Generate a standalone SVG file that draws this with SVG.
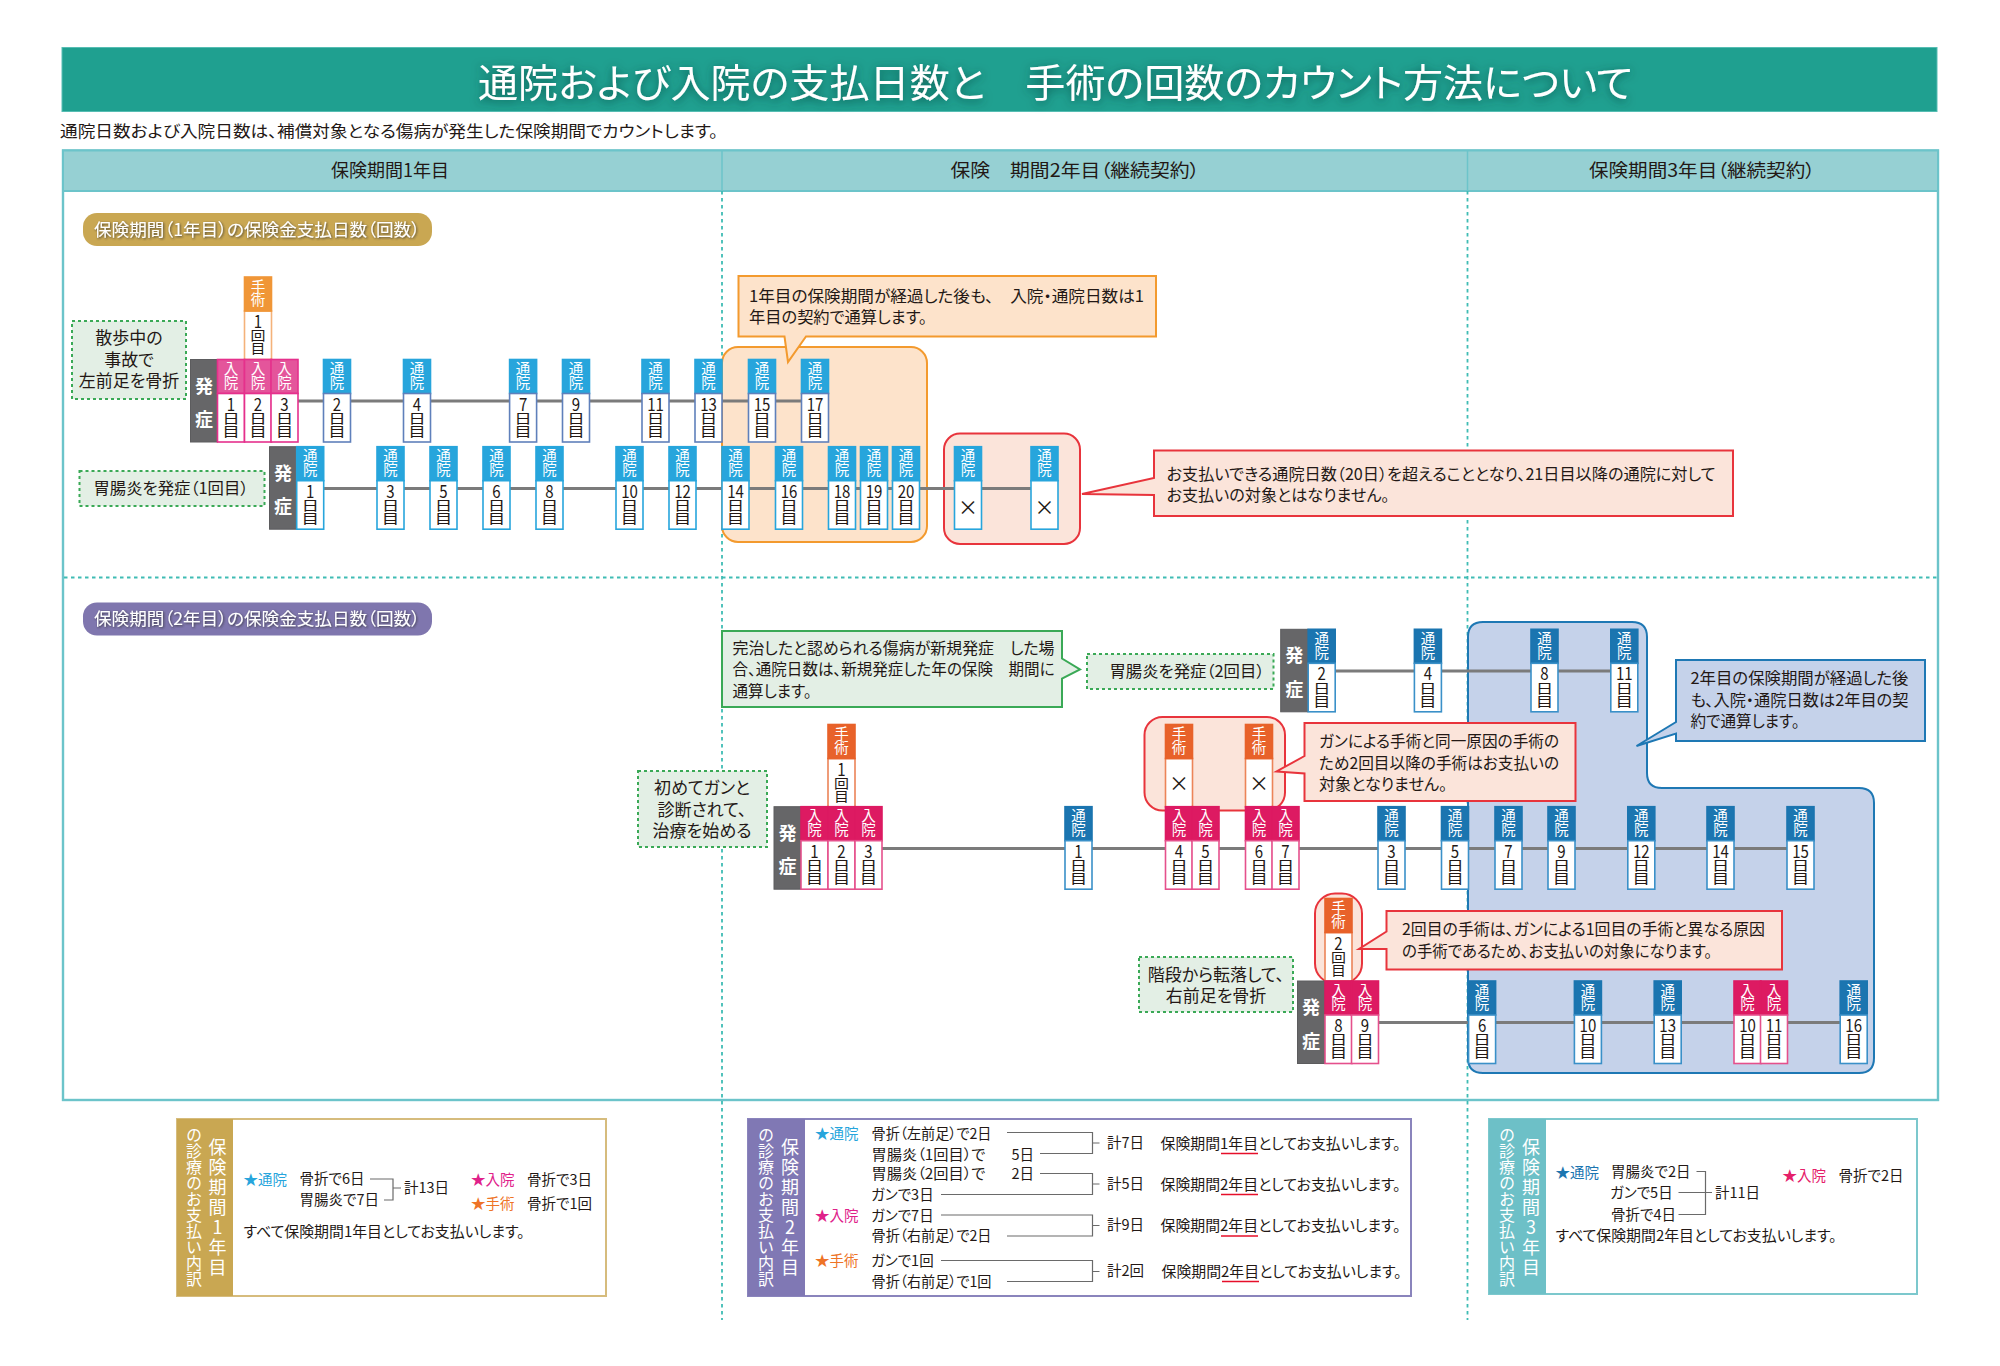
<svg xmlns="http://www.w3.org/2000/svg" width="2000" height="1366" viewBox="0 0 2000 1366">
<defs>
<filter id="sh" x="-5%" y="-40%" width="110%" height="180%"><feDropShadow dx="0" dy="2" stdDeviation="5" flood-color="#0d3f3a" flood-opacity=".75"/></filter>
<filter id="sh2" x="-5%" y="-30%" width="110%" height="160%"><feDropShadow dx="1" dy="1" stdDeviation="1" flood-color="#2f2f2f" flood-opacity=".8"/></filter>
</defs>
<style>
text{font-family:"Noto Sans CJK JP","Noto Sans",sans-serif;dominant-baseline:central;fill:#231815;font-feature-settings:"palt";transform:translateY(-1.3px)}
.m{text-anchor:middle}
.c16{font-size:16px}
.c17{font-size:17px}
.th{font-size:18px;text-anchor:middle}
.dash{fill:#e3efe5;stroke:#3aa956;stroke-width:2;stroke-dasharray:3 3}
.tl{fill:none;stroke:#3fbcb4;stroke-width:1.8;stroke-dasharray:3.5 3.5}
.conn{stroke:#7b7b7b;stroke-width:3}
.br{fill:none;stroke:#6a6a6a;stroke-width:1.2}
.ul{stroke:#e60f2a;stroke-width:1.5}
.nd text{text-anchor:middle}
.hv{writing-mode:vertical-rl;text-orientation:upright;fill:#fff;font-size:14.5px;letter-spacing:-1px;font-feature-settings:normal;text-anchor:start!important;transform:none}
.bv{writing-mode:vertical-rl;text-orientation:upright;font-size:13px;font-feature-settings:normal;text-anchor:start!important;transform-box:fill-box;transform-origin:center;transform:scaleX(1.35)}
.bv.r{transform:scaleX(1.15)}
.n{font-size:17.5px;font-feature-settings:normal;transform-box:fill-box;transform-origin:center;transform:translateY(-.5px) scaleX(.86)}
.x{font-size:20px;transform:none}
.hd,.bd{stroke-width:1.6}
.bd{fill:#fff}
.lt .hd{fill:#27a5dc;stroke:#27a5dc}.lt .bd{stroke:#27a5dc}
.lb .hd{fill:#27a5dc;stroke:#27a5dc}.lb .bd{stroke:#5f80bb}
.dk .hd{fill:#1b75b0;stroke:#1b75b0}.dk .bd{stroke:#3a90c8}
.pk .hd{fill:#e4559b;stroke:#e5308c}.pk .bd{stroke:#e5308c}
.cr .hd{fill:#dd1a62;stroke:#dd1a62}.cr .bd{stroke:#e5508c}
.so .hd{fill:#f09637;stroke:#f09637}.so .bd{stroke:#f4b27a}
.sr .hd{fill:#e8622a;stroke:#e8622a}.sr .bd{stroke:#ec8458}
.on rect{fill:#666668;stroke:#5c5c5e}
.on text{font-size:18px;font-weight:700;fill:#fff;text-anchor:middle;transform:none}
.on text:last-child{transform:translateY(-1.5px)}
.red{fill:#fbe4da;stroke:#e8343c;stroke-width:2}
.org{fill:#fde3cb;stroke:#f39a2e;stroke-width:2}
.vt{writing-mode:vertical-rl;text-orientation:upright;fill:#fff;font-feature-settings:normal;transform:none}
.s{font-size:14.5px;transform:translateY(-1.8px)}
</style>

<g id="title">
<rect x="62" y="47.5" width="1875" height="64" fill="#1fa090" stroke="#56bdb3"/>
<text x="1055.5" y="81.5" class="m" font-size="39" style="fill:#fff" filter="url(#sh)" textLength="1155" lengthAdjust="spacingAndGlyphs">通院および入院の支払日数と　手術の回数のカウント方法について</text>
</g>
<text id="subtitle" x="60" y="131" font-size="16" textLength="658" lengthAdjust="spacingAndGlyphs">通院日数および入院日数は、補償対象となる傷病が発生した保険期間でカウントします。</text>

<g id="table">
<rect x="63" y="150.5" width="1875" height="949.5" fill="#fff" stroke="#6cc4ca" stroke-width="2.4"/>
<rect x="63" y="150.5" width="1875" height="40.5" fill="#96d0d3" stroke="#6cc4ca" stroke-width="2"/>
<path d="M722 151V191M1467.5 151V191" stroke="#6cc4ca" stroke-width="1.5"/>
<text x="390" y="170" class="th">保険期間1年目</text>
<text x="1075" y="170" class="th" textLength="249" lengthAdjust="spacingAndGlyphs">保険　期間2年目（継続契約）</text>
<text x="1702" y="170" class="th" textLength="226" lengthAdjust="spacingAndGlyphs">保険期間3年目（継続契約）</text>
<path class="tl" d="M722 191V1320M1467.5 191V1320M64 577.5H1937"/>
</g>

<g id="pill1"><rect x="83" y="213" width="349" height="33" rx="14" fill="#c9a752"/><text x="94" y="229.5" font-size="17.5" style="fill:#fff" filter="url(#sh2)" textLength="326" lengthAdjust="spacingAndGlyphs">保険期間（1年目）の保険金支払日数（回数）</text></g>
<g id="pill2"><rect x="83" y="602.5" width="349" height="33" rx="14" fill="#7f76ae"/><text x="94" y="619" font-size="17.5" style="fill:#fff" filter="url(#sh2)" textLength="326" lengthAdjust="spacingAndGlyphs">保険期間（2年目）の保険金支払日数（回数）</text></g>

<g id="regions">
<rect id="region-orange" class="org" x="722" y="347" width="205" height="195" rx="16"/>
<rect id="region-red1" class="red" x="944" y="433.5" width="136" height="110.5" rx="16"/>
<path id="region-blue" d="M1468 637Q1468 622 1483 622H1632Q1647 622 1647 637V773Q1647 788 1662 788H1859Q1874 788 1874 803V1058Q1874 1073 1859 1073H1483Q1468 1073 1468 1058Z" fill="#c5d2ea" stroke="#1e78b4" stroke-width="2"/>
<rect id="region-red2" class="red" x="1144.5" y="717" width="140.5" height="93.5" rx="18"/>
<rect id="region-red3" class="red" x="1315" y="893.5" width="47" height="90" rx="20"/>
</g>

<g id="connectors">
<line class="conn" x1="297" y1="401" x2="815" y2="401"/>
<line class="conn" x1="323" y1="488.5" x2="1045" y2="488.5"/>
<line class="conn" x1="1335" y1="671" x2="1625" y2="671"/>
<line class="conn" x1="881" y1="848.5" x2="1800" y2="848.5"/>
<line class="conn" x1="1378" y1="1022.5" x2="1855" y2="1022.5"/>
</g>

<g id="labels">
<g id="lb-walk"><rect class="dash" x="72" y="321" width="114" height="78"/><text class="c17 m" x="129"><tspan x="129" y="337.5">散歩中の</tspan><tspan x="129" y="359">事故で</tspan><tspan x="129" y="380.5">左前足を骨折</tspan></text></g>
<g id="lb-gastro1"><rect class="dash" x="79.5" y="471" width="185" height="35"/><text class="c16 m" x="171" y="488" textLength="155" lengthAdjust="spacingAndGlyphs">胃腸炎を発症（1回目）</text></g>
<g id="lb-gastro2"><rect class="dash" x="1087" y="654" width="186.5" height="35"/><text class="c16 m" x="1187" y="671" textLength="155" lengthAdjust="spacingAndGlyphs">胃腸炎を発症（2回目）</text></g>
<g id="lb-cancer"><rect class="dash" x="638" y="771" width="129" height="76"/><text class="c17 m"><tspan x="702" y="787.5">初めてガンと</tspan><tspan x="702" y="809">診断されて、</tspan><tspan x="702" y="830.5">治療を始める</tspan></text></g>
<g id="lb-stairs"><rect class="dash" x="1139" y="957" width="154" height="55"/><text class="c17 m"><tspan x="1216" y="974">階段から転落して、</tspan><tspan x="1216" y="995">右前足を骨折</tspan></text></g>
</g>

<g id="surgery">
<g id="s1" class="nd so" transform="translate(244.5,277)"><rect class="bd" y="34" width="27" height="48.5"/><rect class="hd" width="27" height="34"/><text class="hv" x="13.5" y="2">手術</text><text class="n" x="13.5" y="44">1</text><text class="bv r" x="13.5" y="52">回目</text></g>
<g id="s2" class="nd sr" transform="translate(828,724.5)"><rect class="bd" y="34" width="27" height="48.5"/><rect class="hd" width="27" height="34"/><text class="hv" x="13.5" y="2">手術</text><text class="n" x="13.5" y="44">1</text><text class="bv r" x="13.5" y="52">回目</text></g>
<g id="s3" class="nd sr" transform="translate(1165.5,724.5)"><rect class="bd" y="34" width="27" height="48.5"/><rect class="hd" width="27" height="34"/><text class="hv" x="13.5" y="2">手術</text><text class="x" x="13.5" y="58">×</text></g>
<g id="s4" class="nd sr" transform="translate(1245.5,724.5)"><rect class="bd" y="34" width="27" height="48.5"/><rect class="hd" width="27" height="34"/><text class="hv" x="13.5" y="2">手術</text><text class="x" x="13.5" y="58">×</text></g>
<g id="s5" class="nd sr" transform="translate(1325,898.5)"><rect class="bd" y="34" width="27" height="48.5"/><rect class="hd" width="27" height="34"/><text class="hv" x="13.5" y="2">手術</text><text class="n" x="13.5" y="44">2</text><text class="bv r" x="13.5" y="52">回目</text></g>
</g>

<g id="row1">
<g id="r1-on" class="on" transform="translate(190.5,359.5)"><rect width="27" height="82.5"/><text x="13.5" y="25">発</text><text x="13.5" y="60">症</text></g>
<g id="r1-i1" class="nd pk" transform="translate(217.5,359.5)"><rect class="hd" width="27" height="34"/><rect class="bd" y="34" width="27" height="48.5"/><text class="hv" x="13.5" y="2">入院</text><text class="n" x="13.5" y="44">1</text><text class="bv" x="13.5" y="52">日目</text></g>
<g id="r1-i2" class="nd pk" transform="translate(244.5,359.5)"><rect class="hd" width="27" height="34"/><rect class="bd" y="34" width="27" height="48.5"/><text class="hv" x="13.5" y="2">入院</text><text class="n" x="13.5" y="44">2</text><text class="bv" x="13.5" y="52">日目</text></g>
<g id="r1-i3" class="nd pk" transform="translate(271,359.5)"><rect class="hd" width="27" height="34"/><rect class="bd" y="34" width="27" height="48.5"/><text class="hv" x="13.5" y="2">入院</text><text class="n" x="13.5" y="44">3</text><text class="bv" x="13.5" y="52">日目</text></g>
<g id="r1-t2" class="nd lb" transform="translate(323.5,359.5)"><rect class="hd" width="27" height="34"/><rect class="bd" y="34" width="27" height="48.5"/><text class="hv" x="13.5" y="2">通院</text><text class="n" x="13.5" y="44">2</text><text class="bv" x="13.5" y="52">日目</text></g>
<g id="r1-t4" class="nd lb" transform="translate(403.5,359.5)"><rect class="hd" width="27" height="34"/><rect class="bd" y="34" width="27" height="48.5"/><text class="hv" x="13.5" y="2">通院</text><text class="n" x="13.5" y="44">4</text><text class="bv" x="13.5" y="52">日目</text></g>
<g id="r1-t7" class="nd lb" transform="translate(509.6,359.5)"><rect class="hd" width="27" height="34"/><rect class="bd" y="34" width="27" height="48.5"/><text class="hv" x="13.5" y="2">通院</text><text class="n" x="13.5" y="44">7</text><text class="bv" x="13.5" y="52">日目</text></g>
<g id="r1-t9" class="nd lb" transform="translate(562.5,359.5)"><rect class="hd" width="27" height="34"/><rect class="bd" y="34" width="27" height="48.5"/><text class="hv" x="13.5" y="2">通院</text><text class="n" x="13.5" y="44">9</text><text class="bv" x="13.5" y="52">日目</text></g>
<g id="r1-t11" class="nd lb" transform="translate(642,359.5)"><rect class="hd" width="27" height="34"/><rect class="bd" y="34" width="27" height="48.5"/><text class="hv" x="13.5" y="2">通院</text><text class="n" x="13.5" y="44">11</text><text class="bv" x="13.5" y="52">日目</text></g>
<g id="r1-t13" class="nd lb" transform="translate(695,359.5)"><rect class="hd" width="27" height="34"/><rect class="bd" y="34" width="27" height="48.5"/><text class="hv" x="13.5" y="2">通院</text><text class="n" x="13.5" y="44">13</text><text class="bv" x="13.5" y="52">日目</text></g>
<g id="r1-t15" class="nd lb" transform="translate(748.5,359.5)"><rect class="hd" width="27" height="34"/><rect class="bd" y="34" width="27" height="48.5"/><text class="hv" x="13.5" y="2">通院</text><text class="n" x="13.5" y="44">15</text><text class="bv" x="13.5" y="52">日目</text></g>
<g id="r1-t17" class="nd lb" transform="translate(801.5,359.5)"><rect class="hd" width="27" height="34"/><rect class="bd" y="34" width="27" height="48.5"/><text class="hv" x="13.5" y="2">通院</text><text class="n" x="13.5" y="44">17</text><text class="bv" x="13.5" y="52">日目</text></g>
</g>

<g id="row2">
<g id="r2-on" class="on" transform="translate(269.5,446.7)"><rect width="27" height="82.5"/><text x="13.5" y="25">発</text><text x="13.5" y="60">症</text></g>
<g id="r2-t1" class="nd lt" transform="translate(296.7,446.7)"><rect class="hd" width="27" height="34"/><rect class="bd" y="34" width="27" height="48.5"/><text class="hv" x="13.5" y="2">通院</text><text class="n" x="13.5" y="44">1</text><text class="bv" x="13.5" y="52">日目</text></g>
<g id="r2-t3" class="nd lt" transform="translate(377,446.7)"><rect class="hd" width="27" height="34"/><rect class="bd" y="34" width="27" height="48.5"/><text class="hv" x="13.5" y="2">通院</text><text class="n" x="13.5" y="44">3</text><text class="bv" x="13.5" y="52">日目</text></g>
<g id="r2-t5" class="nd lt" transform="translate(430,446.7)"><rect class="hd" width="27" height="34"/><rect class="bd" y="34" width="27" height="48.5"/><text class="hv" x="13.5" y="2">通院</text><text class="n" x="13.5" y="44">5</text><text class="bv" x="13.5" y="52">日目</text></g>
<g id="r2-t6" class="nd lt" transform="translate(483,446.7)"><rect class="hd" width="27" height="34"/><rect class="bd" y="34" width="27" height="48.5"/><text class="hv" x="13.5" y="2">通院</text><text class="n" x="13.5" y="44">6</text><text class="bv" x="13.5" y="52">日目</text></g>
<g id="r2-t8" class="nd lt" transform="translate(536,446.7)"><rect class="hd" width="27" height="34"/><rect class="bd" y="34" width="27" height="48.5"/><text class="hv" x="13.5" y="2">通院</text><text class="n" x="13.5" y="44">8</text><text class="bv" x="13.5" y="52">日目</text></g>
<g id="r2-t10" class="nd lt" transform="translate(616,446.7)"><rect class="hd" width="27" height="34"/><rect class="bd" y="34" width="27" height="48.5"/><text class="hv" x="13.5" y="2">通院</text><text class="n" x="13.5" y="44">10</text><text class="bv" x="13.5" y="52">日目</text></g>
<g id="r2-t12" class="nd lt" transform="translate(669,446.7)"><rect class="hd" width="27" height="34"/><rect class="bd" y="34" width="27" height="48.5"/><text class="hv" x="13.5" y="2">通院</text><text class="n" x="13.5" y="44">12</text><text class="bv" x="13.5" y="52">日目</text></g>
<g id="r2-t14" class="nd lt" transform="translate(722,446.7)"><rect class="hd" width="27" height="34"/><rect class="bd" y="34" width="27" height="48.5"/><text class="hv" x="13.5" y="2">通院</text><text class="n" x="13.5" y="44">14</text><text class="bv" x="13.5" y="52">日目</text></g>
<g id="r2-t16" class="nd lt" transform="translate(775.5,446.7)"><rect class="hd" width="27" height="34"/><rect class="bd" y="34" width="27" height="48.5"/><text class="hv" x="13.5" y="2">通院</text><text class="n" x="13.5" y="44">16</text><text class="bv" x="13.5" y="52">日目</text></g>
<g id="r2-t18" class="nd lt" transform="translate(828.5,446.7)"><rect class="hd" width="27" height="34"/><rect class="bd" y="34" width="27" height="48.5"/><text class="hv" x="13.5" y="2">通院</text><text class="n" x="13.5" y="44">18</text><text class="bv" x="13.5" y="52">日目</text></g>
<g id="r2-t19" class="nd lt" transform="translate(860.5,446.7)"><rect class="hd" width="27" height="34"/><rect class="bd" y="34" width="27" height="48.5"/><text class="hv" x="13.5" y="2">通院</text><text class="n" x="13.5" y="44">19</text><text class="bv" x="13.5" y="52">日目</text></g>
<g id="r2-t20" class="nd lt" transform="translate(892.5,446.7)"><rect class="hd" width="27" height="34"/><rect class="bd" y="34" width="27" height="48.5"/><text class="hv" x="13.5" y="2">通院</text><text class="n" x="13.5" y="44">20</text><text class="bv" x="13.5" y="52">日目</text></g>
<g id="r2-x1" class="nd lt" transform="translate(954.5,446.7)"><rect class="hd" width="27" height="34"/><rect class="bd" y="34" width="27" height="48.5"/><text class="hv" x="13.5" y="2">通院</text><text class="x" x="13.5" y="59.5">×</text></g>
<g id="r2-x2" class="nd lt" transform="translate(1031,446.7)"><rect class="hd" width="27" height="34"/><rect class="bd" y="34" width="27" height="48.5"/><text class="hv" x="13.5" y="2">通院</text><text class="x" x="13.5" y="59.5">×</text></g>
</g>

<g id="rowA">
<g id="ra-on" class="on" transform="translate(1280.7,629.3)"><rect width="27" height="82.5"/><text x="13.5" y="25">発</text><text x="13.5" y="60">症</text></g>
<g id="ra-t2" class="nd dk" transform="translate(1308.2,629.3)"><rect class="hd" width="27" height="34"/><rect class="bd" y="34" width="27" height="48.5"/><text class="hv" x="13.5" y="2">通院</text><text class="n" x="13.5" y="44">2</text><text class="bv" x="13.5" y="52">日目</text></g>
<g id="ra-t4" class="nd dk" transform="translate(1414.4,629.3)"><rect class="hd" width="27" height="34"/><rect class="bd" y="34" width="27" height="48.5"/><text class="hv" x="13.5" y="2">通院</text><text class="n" x="13.5" y="44">4</text><text class="bv" x="13.5" y="52">日目</text></g>
<g id="ra-t8" class="nd dk" transform="translate(1531,629.3)"><rect class="hd" width="27" height="34"/><rect class="bd" y="34" width="27" height="48.5"/><text class="hv" x="13.5" y="2">通院</text><text class="n" x="13.5" y="44">8</text><text class="bv" x="13.5" y="52">日目</text></g>
<g id="ra-t11" class="nd dk" transform="translate(1610.8,629.3)"><rect class="hd" width="27" height="34"/><rect class="bd" y="34" width="27" height="48.5"/><text class="hv" x="13.5" y="2">通院</text><text class="n" x="13.5" y="44">11</text><text class="bv" x="13.5" y="52">日目</text></g>
</g>

<g id="rowB">
<g id="rb-on" class="on" transform="translate(774,806.7)"><rect width="27" height="82.5"/><text x="13.5" y="25">発</text><text x="13.5" y="60">症</text></g>
<g id="rb-i1" class="nd cr" transform="translate(801,806.7)"><rect class="hd" width="27" height="34"/><rect class="bd" y="34" width="27" height="48.5"/><text class="hv" x="13.5" y="2">入院</text><text class="n" x="13.5" y="44">1</text><text class="bv" x="13.5" y="52">日目</text></g>
<g id="rb-i2" class="nd cr" transform="translate(828,806.7)"><rect class="hd" width="27" height="34"/><rect class="bd" y="34" width="27" height="48.5"/><text class="hv" x="13.5" y="2">入院</text><text class="n" x="13.5" y="44">2</text><text class="bv" x="13.5" y="52">日目</text></g>
<g id="rb-i3" class="nd cr" transform="translate(855,806.7)"><rect class="hd" width="27" height="34"/><rect class="bd" y="34" width="27" height="48.5"/><text class="hv" x="13.5" y="2">入院</text><text class="n" x="13.5" y="44">3</text><text class="bv" x="13.5" y="52">日目</text></g>
<g id="rb-t1" class="nd dk" transform="translate(1065,806.7)"><rect class="hd" width="27" height="34"/><rect class="bd" y="34" width="27" height="48.5"/><text class="hv" x="13.5" y="2">通院</text><text class="n" x="13.5" y="44">1</text><text class="bv" x="13.5" y="52">日目</text></g>
<g id="rb-i4" class="nd cr" transform="translate(1165.5,806.7)"><rect class="hd" width="27" height="34"/><rect class="bd" y="34" width="27" height="48.5"/><text class="hv" x="13.5" y="2">入院</text><text class="n" x="13.5" y="44">4</text><text class="bv" x="13.5" y="52">日目</text></g>
<g id="rb-i5" class="nd cr" transform="translate(1192,806.7)"><rect class="hd" width="27" height="34"/><rect class="bd" y="34" width="27" height="48.5"/><text class="hv" x="13.5" y="2">入院</text><text class="n" x="13.5" y="44">5</text><text class="bv" x="13.5" y="52">日目</text></g>
<g id="rb-i6" class="nd cr" transform="translate(1245.5,806.7)"><rect class="hd" width="27" height="34"/><rect class="bd" y="34" width="27" height="48.5"/><text class="hv" x="13.5" y="2">入院</text><text class="n" x="13.5" y="44">6</text><text class="bv" x="13.5" y="52">日目</text></g>
<g id="rb-i7" class="nd cr" transform="translate(1272,806.7)"><rect class="hd" width="27" height="34"/><rect class="bd" y="34" width="27" height="48.5"/><text class="hv" x="13.5" y="2">入院</text><text class="n" x="13.5" y="44">7</text><text class="bv" x="13.5" y="52">日目</text></g>
<g id="rb-t3" class="nd dk" transform="translate(1378,806.7)"><rect class="hd" width="27" height="34"/><rect class="bd" y="34" width="27" height="48.5"/><text class="hv" x="13.5" y="2">通院</text><text class="n" x="13.5" y="44">3</text><text class="bv" x="13.5" y="52">日目</text></g>
<g id="rb-t5" class="nd dk" transform="translate(1441.5,806.7)"><rect class="hd" width="27" height="34"/><rect class="bd" y="34" width="27" height="48.5"/><text class="hv" x="13.5" y="2">通院</text><text class="n" x="13.5" y="44">5</text><text class="bv" x="13.5" y="52">日目</text></g>
<g id="rb-t7" class="nd dk" transform="translate(1495,806.7)"><rect class="hd" width="27" height="34"/><rect class="bd" y="34" width="27" height="48.5"/><text class="hv" x="13.5" y="2">通院</text><text class="n" x="13.5" y="44">7</text><text class="bv" x="13.5" y="52">日目</text></g>
<g id="rb-t9" class="nd dk" transform="translate(1548,806.7)"><rect class="hd" width="27" height="34"/><rect class="bd" y="34" width="27" height="48.5"/><text class="hv" x="13.5" y="2">通院</text><text class="n" x="13.5" y="44">9</text><text class="bv" x="13.5" y="52">日目</text></g>
<g id="rb-t12" class="nd dk" transform="translate(1627.8,806.7)"><rect class="hd" width="27" height="34"/><rect class="bd" y="34" width="27" height="48.5"/><text class="hv" x="13.5" y="2">通院</text><text class="n" x="13.5" y="44">12</text><text class="bv" x="13.5" y="52">日目</text></g>
<g id="rb-t14" class="nd dk" transform="translate(1707,806.7)"><rect class="hd" width="27" height="34"/><rect class="bd" y="34" width="27" height="48.5"/><text class="hv" x="13.5" y="2">通院</text><text class="n" x="13.5" y="44">14</text><text class="bv" x="13.5" y="52">日目</text></g>
<g id="rb-t15" class="nd dk" transform="translate(1787,806.7)"><rect class="hd" width="27" height="34"/><rect class="bd" y="34" width="27" height="48.5"/><text class="hv" x="13.5" y="2">通院</text><text class="n" x="13.5" y="44">15</text><text class="bv" x="13.5" y="52">日目</text></g>
</g>

<g id="rowC">
<g id="rc-on" class="on" transform="translate(1297.5,981)"><rect width="27" height="82.5"/><text x="13.5" y="25">発</text><text x="13.5" y="60">症</text></g>
<g id="rc-i8" class="nd cr" transform="translate(1325,981)"><rect class="hd" width="27" height="34"/><rect class="bd" y="34" width="27" height="48.5"/><text class="hv" x="13.5" y="2">入院</text><text class="n" x="13.5" y="44">8</text><text class="bv" x="13.5" y="52">日目</text></g>
<g id="rc-i9" class="nd cr" transform="translate(1351.5,981)"><rect class="hd" width="27" height="34"/><rect class="bd" y="34" width="27" height="48.5"/><text class="hv" x="13.5" y="2">入院</text><text class="n" x="13.5" y="44">9</text><text class="bv" x="13.5" y="52">日目</text></g>
<g id="rc-t6" class="nd dk" transform="translate(1468.6,981)"><rect class="hd" width="27" height="34"/><rect class="bd" y="34" width="27" height="48.5"/><text class="hv" x="13.5" y="2">通院</text><text class="n" x="13.5" y="44">6</text><text class="bv" x="13.5" y="52">日目</text></g>
<g id="rc-t10" class="nd dk" transform="translate(1574.4,981)"><rect class="hd" width="27" height="34"/><rect class="bd" y="34" width="27" height="48.5"/><text class="hv" x="13.5" y="2">通院</text><text class="n" x="13.5" y="44">10</text><text class="bv" x="13.5" y="52">日目</text></g>
<g id="rc-t13" class="nd dk" transform="translate(1654.2,981)"><rect class="hd" width="27" height="34"/><rect class="bd" y="34" width="27" height="48.5"/><text class="hv" x="13.5" y="2">通院</text><text class="n" x="13.5" y="44">13</text><text class="bv" x="13.5" y="52">日目</text></g>
<g id="rc-i10" class="nd cr" transform="translate(1734,981)"><rect class="hd" width="27" height="34"/><rect class="bd" y="34" width="27" height="48.5"/><text class="hv" x="13.5" y="2">入院</text><text class="n" x="13.5" y="44">10</text><text class="bv" x="13.5" y="52">日目</text></g>
<g id="rc-i11" class="nd cr" transform="translate(1760.5,981)"><rect class="hd" width="27" height="34"/><rect class="bd" y="34" width="27" height="48.5"/><text class="hv" x="13.5" y="2">入院</text><text class="n" x="13.5" y="44">11</text><text class="bv" x="13.5" y="52">日目</text></g>
<g id="rc-t16" class="nd dk" transform="translate(1840.2,981)"><rect class="hd" width="27" height="34"/><rect class="bd" y="34" width="27" height="48.5"/><text class="hv" x="13.5" y="2">通院</text><text class="n" x="13.5" y="44">16</text><text class="bv" x="13.5" y="52">日目</text></g>
</g>

<g id="callouts">
<g id="co-orange"><path class="org" d="M738.5 276H1156V336.5H806L788 362L784.5 336.5H738.5Z"/><text class="c16"><tspan x="749" y="296" textLength="395" lengthAdjust="spacingAndGlyphs">1年目の保険期間が経過した後も、　入院・通院日数は1</tspan><tspan x="749" y="317" textLength="178" lengthAdjust="spacingAndGlyphs">年目の契約で通算します。</tspan></text></g>
<g id="co-red1"><path class="red" d="M1154 450.5H1733V516H1154V495L1082 494L1154 478Z"/><text class="c16"><tspan x="1166.5" y="474" textLength="549" lengthAdjust="spacingAndGlyphs">お支払いできる通院日数（20日）を超えることとなり、21日目以降の通院に対して</tspan><tspan x="1166.5" y="495" textLength="223" lengthAdjust="spacingAndGlyphs">お支払いの対象とはなりません。</tspan></text></g>
<g id="co-green"><path d="M722 631H1062V658.5L1080 669.5L1062 678.5V707H722Z" fill="#e3efe5" stroke="#3aa956" stroke-width="2"/><text class="c16"><tspan x="732.5" y="648" textLength="322" lengthAdjust="spacingAndGlyphs">完治したと認められる傷病が新規発症　した場</tspan><tspan x="732.5" y="669.5" textLength="322" lengthAdjust="spacingAndGlyphs">合、通院日数は、新規発症した年の保険　期間に</tspan><tspan x="732.5" y="691" textLength="79" lengthAdjust="spacingAndGlyphs">通算します。</tspan></text></g>
<g id="co-red2"><path class="red" d="M1304.5 723H1575.5V801H1304.5V773.5L1276.5 771.5L1304.5 756Z"/><text class="c16"><tspan x="1319" y="741.5" textLength="240" lengthAdjust="spacingAndGlyphs">ガンによる手術と同一原因の手術の</tspan><tspan x="1319" y="763" textLength="240" lengthAdjust="spacingAndGlyphs">ため2回目以降の手術はお支払いの</tspan><tspan x="1319" y="784" textLength="128" lengthAdjust="spacingAndGlyphs">対象となりません。</tspan></text></g>
<g id="co-blue"><path d="M1676 660H1925V741H1676V733.5L1636.5 746L1676 722Z" fill="#c5d2ea" stroke="#1e78b4" stroke-width="2"/><text class="c16"><tspan x="1690.5" y="678.5" textLength="218" lengthAdjust="spacingAndGlyphs">2年目の保険期間が経過した後</tspan><tspan x="1690.5" y="700" textLength="218" lengthAdjust="spacingAndGlyphs">も、入院・通院日数は2年目の契</tspan><tspan x="1690.5" y="721.5" textLength="109" lengthAdjust="spacingAndGlyphs">約で通算します。</tspan></text></g>
<g id="co-red3"><path class="red" d="M1386.5 911H1782V969.5H1386.5V949H1359L1386.5 931.5Z"/><text class="c16"><tspan x="1402" y="929.5" textLength="363" lengthAdjust="spacingAndGlyphs">2回目の手術は、ガンによる1回目の手術と異なる原因</tspan><tspan x="1402" y="951" textLength="310" lengthAdjust="spacingAndGlyphs">の手術であるため、お支払いの対象になります。</tspan></text></g>
</g>

<g id="box1">
<rect x="177" y="1119" width="429" height="177" fill="#fff" stroke="#d6bc7d" stroke-width="2"/>
<rect x="177" y="1119" width="56" height="177" fill="#c9a752"/>
<text class="vt" x="217.5" y="1138" font-size="18" letter-spacing="2">保険期間1年目</text>
<text class="vt" x="194" y="1127" font-size="16">の診療のお支払い内訳</text>
<text class="s" x="243.5" y="1180" style="fill:#27a5dc">★通院</text><text class="s" x="299.5" y="1179">骨折で6日</text><text class="s" x="299.5" y="1200.5">胃腸炎で7日</text>
<path class="br" d="M370 1179H393V1200H384M393 1188H401"/>
<text class="s" x="404" y="1188">計13日</text>
<text class="s" x="471" y="1180" style="fill:#e0218a">★入院</text><text class="s" x="527" y="1180">骨折で3日</text>
<text class="s" x="471" y="1204" style="fill:#ee7326">★手術</text><text class="s" x="527" y="1204">骨折で1回</text>
<text class="s" x="243.5" y="1232" textLength="281" lengthAdjust="spacingAndGlyphs">すべて保険期間1年目としてお支払いします。</text>
</g>

<g id="box2">
<rect x="748" y="1119" width="663" height="177" fill="#fff" stroke="#8a84bc" stroke-width="2"/>
<rect x="748" y="1119" width="57" height="177" fill="#8078b4"/>
<text class="vt" x="790" y="1138" font-size="18" letter-spacing="2">保険期間2年目</text>
<text class="vt" x="766" y="1127" font-size="16">の診療のお支払い内訳</text>
<text class="s" x="815" y="1134" style="fill:#27a5dc">★通院</text>
<text class="s" x="871.5" y="1134" textLength="120" lengthAdjust="spacingAndGlyphs">骨折（左前足）で2日</text>
<text class="s" x="871.5" y="1155" textLength="114" lengthAdjust="spacingAndGlyphs">胃腸炎（1回目）で</text><text class="s" x="1011.5" y="1155">5日</text>
<text class="s" x="871.5" y="1174.5" textLength="114" lengthAdjust="spacingAndGlyphs">胃腸炎（2回目）で</text><text class="s" x="1011.5" y="1174.5">2日</text>
<text class="s" x="871" y="1195">ガンで3日</text>
<text class="s" x="815" y="1216" style="fill:#e0218a">★入院</text>
<text class="s" x="871" y="1216">ガンで7日</text>
<text class="s" x="871.5" y="1236.5" textLength="120" lengthAdjust="spacingAndGlyphs">骨折（右前足）で2日</text>
<text class="s" x="815" y="1261.5" style="fill:#ee7326">★手術</text>
<text class="s" x="871" y="1261.5">ガンで1回</text>
<text class="s" x="871.5" y="1282" textLength="120" lengthAdjust="spacingAndGlyphs">骨折（右前足）で1回</text>
<path class="br" d="M1007 1132.5H1092.5V1153.5H1040M1092.5 1143H1099.5M1040 1173.5H1092.5V1194.5H941M1092.5 1184H1099.5M941 1215H1092.5V1236H1007M1092.5 1225.5H1099.5M941 1260.5H1092.5V1281.5H1007M1092.5 1271.5H1099.5"/>
<text class="s" x="1107" y="1143">計7日</text>
<text class="s" x="1107" y="1184">計5日</text>
<text class="s" x="1107" y="1225.5">計9日</text>
<text class="s" x="1107" y="1271.5">計2回</text>
<text class="s" x="1160.5" y="1144.5" textLength="240" lengthAdjust="spacingAndGlyphs">保険期間1年目としてお支払いします。</text>
<text class="s" x="1160.5" y="1185" textLength="240" lengthAdjust="spacingAndGlyphs">保険期間2年目としてお支払いします。</text>
<text class="s" x="1160.5" y="1226" textLength="240" lengthAdjust="spacingAndGlyphs">保険期間2年目としてお支払いします。</text>
<text class="s" x="1161.5" y="1272" textLength="240" lengthAdjust="spacingAndGlyphs">保険期間2年目としてお支払いします。</text>
<path class="ul" d="M1221 1153.5H1258M1221 1194.5H1258M1221 1236H1258M1222 1281.5H1259"/>
</g>

<g id="box3">
<rect x="1489" y="1119" width="428" height="175" fill="#fff" stroke="#7cc8cd" stroke-width="2"/>
<rect x="1489" y="1119" width="57" height="175" fill="#6dc0c7"/>
<text class="vt" x="1531" y="1138" font-size="18" letter-spacing="2">保険期間3年目</text>
<text class="vt" x="1507" y="1127" font-size="16">の診療のお支払い内訳</text>
<text class="s" x="1555.5" y="1173" style="fill:#1b75b0">★通院</text>
<text class="s" x="1611" y="1172.5">胃腸炎で2日</text>
<text class="s" x="1610" y="1193.5">ガンで5日</text>
<text class="s" x="1611" y="1215">骨折で4日</text>
<path class="br" d="M1696.5 1171.5H1705.5V1214.5H1678.5M1678.5 1192.5H1712"/>
<text class="s" x="1715" y="1193.5">計11日</text>
<text class="s" x="1782.5" y="1176" style="fill:#e5206a">★入院</text>
<text class="s" x="1838.5" y="1176">骨折で2日</text>
<text class="s" x="1555.5" y="1236.5" textLength="281" lengthAdjust="spacingAndGlyphs">すべて保険期間2年目としてお支払いします。</text>
</g>
</svg>
